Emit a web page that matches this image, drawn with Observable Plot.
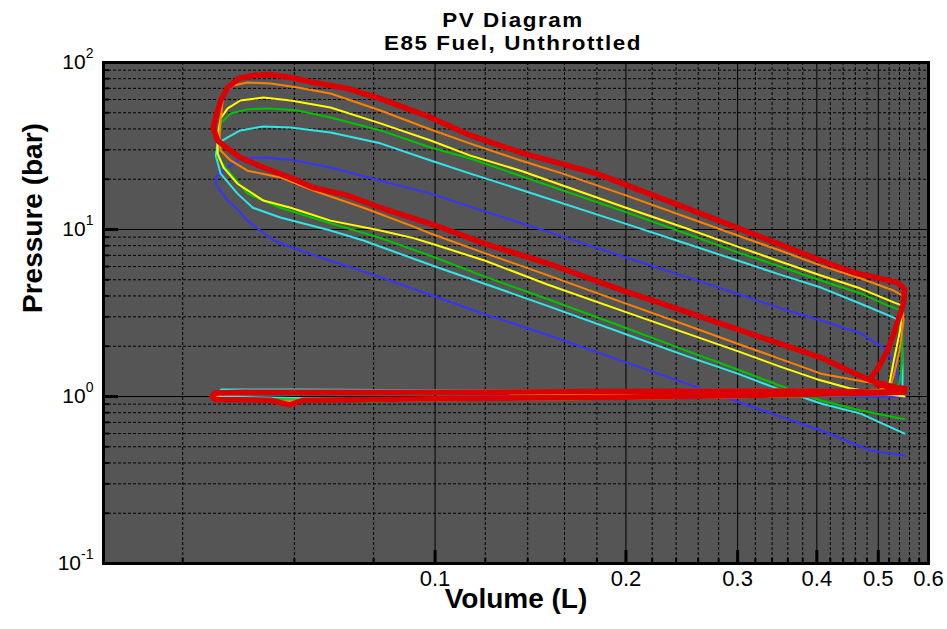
<!DOCTYPE html>
<html><head><meta charset="utf-8">
<script src="https://cdn.jsdelivr.net/npm/d3@7"></script>
<script src="https://cdn.jsdelivr.net/npm/@observablehq/plot@0.6"></script>
<style>
body{margin:0;background:#fff;font-family:Arial,"Liberation Sans",sans-serif;}
#title{box-sizing:border-box;width:947px;height:36px;overflow:visible;padding-top:9px;padding-left:79px;text-align:center;font-weight:bold;font-size:20px;letter-spacing:1.4px;color:#000;position:relative;z-index:1;}
#title div{height:23px;line-height:23px;white-space:nowrap;transform:scaleX(1.12);transform-origin:center;}
#chart svg{display:block;}
</style></head><body>
<div id="title"><div>PV Diagram</div><div>E85 Fuel, Unthrottled</div></div>
<div id="chart"></div>
<script>
// Axis ticks
const xMajor = [0.1,0.2,0.3,0.4,0.5,0.6];
const xTickLabels = ["0.1","0.2","0.3","0.4","0.5","0.6"];
const xMinor = [0.04,0.06,0.08,0.12,0.14,0.16,0.18,0.22,0.24,0.26,0.28,0.32,0.34,0.36,0.38,0.42,0.44,0.46,0.48,0.52,0.54,0.56,0.58];
const yMajor = [0.1,1,10,100];
const yTickExponents = ["-1","0","1","2"];
const yMinor = [0.2,0.3,0.4,0.5,0.6,0.7,0.8,0.9,2,3,4,5,6,7,8,9,20,30,40,50,60,70,80,90];

// Series: volume (L) and pressure (bar), in cycle order
const blueV = [0.55,0.486,0.406,0.35,0.3,0.25,0.2,0.15,0.12,0.1,0.08,0.07,0.06,0.0557,0.053,0.0506,0.049,0.0471,0.0454,0.0451,
 0.0451,0.0464,0.0493,0.0536,0.0592,0.0684,0.082,0.0984,0.12,0.15,0.2,0.25,0.3,0.35,0.406,0.469,0.507,0.529,0.546,
 0.5,0.3,0.1,0.05,0.045,
 0.045,0.1,0.3,0.5,0.55];
const blueP = [0.443,0.475,0.626,0.76,0.93,1.19,1.6,2.35,3.1,3.97,5.35,6.3,7.7,8.59,9.87,11.3,13.0,14.9,18.0,18.8,
 20.5,22.5,26.6,27.0,26.2,23.5,19.6,16.4,12.8,9.75,6.8,5.17,4.12,3.38,2.85,2.39,1.98,1.64,1.04,
 1.07,1.07,1.07,1.08,1.06,
 0.98,0.97,0.99,1.0,0.99];

const cyanV = [0.55,0.469,0.406,0.35,0.3,0.25,0.2,0.15,0.12,0.1,0.0771,0.0684,0.057,0.0516,0.0488,0.0459,0.0451,
 0.0454,0.0471,0.0493,0.0536,0.0592,0.0684,0.082,0.0984,0.1137,0.1365,0.2,0.25,0.3,0.35,0.406,0.469,0.529,0.541,
 0.545,0.546,0.546,0.5,
 0.4,0.3,0.2,0.1,0.06,0.046,
 0.045,0.06,0.1,0.2,0.3,0.4,0.5,0.55];
const cyanP = [0.60,0.79,0.908,1.1,1.37,1.74,2.36,3.5,4.72,6.0,8.59,9.87,11.8,13.5,16.4,21.6,27.7,
 32.8,35.6,39.2,41.4,40.8,38.1,32.8,25.9,21.6,17.3,10.8,8.18,6.52,5.37,4.49,3.59,2.97,2.8,
 2.48,1.43,1.01,1.08,
 1.10,1.10,1.09,1.09,1.10,1.10,
 1.0,0.98,0.98,0.99,1.0,1.02,1.04,1.05];

const greenV = [0.55,0.469,0.406,0.35,0.3,0.25,0.2,0.15,0.12,0.1,0.082,0.0684,0.057,0.0506,0.0476,0.0454,
 0.0459,0.0476,0.0506,0.055,0.0607,0.0684,0.082,0.0984,0.1137,0.1365,0.2,0.25,0.3,0.35,0.406,0.469,0.517,0.54,
 0.545,0.545,0.54,0.53,
 0.4,0.3,0.2,0.1,0.06,0.046,
 0.045,0.06,0.08,0.1,0.2,0.3,0.4,0.5,0.55];
const greenP = [0.73,0.824,0.946,1.16,1.45,1.87,2.57,3.85,5.2,6.8,8.9,10.9,13.5,16.4,21.6,27.0,
 43.2,49.5,52.4,53.1,51.6,46.9,39.2,31.0,26.6,20.9,12.7,9.4,7.3,6.0,4.95,4.14,3.51,3.3,
 2.5,1.6,1.2,1.08,
 1.07,1.07,1.06,1.07,1.08,1.08,
 0.98,0.96,0.93,0.96,0.98,0.99,1.0,1.02,1.03];

const yellowV = [0.55,0.5,0.45,0.4,0.35,0.3,0.25,0.2,0.15,0.12,0.1,0.0925,0.082,0.0684,0.0592,0.0536,0.0488,0.0464,0.0454,
 0.0454,0.0459,0.0471,0.0493,0.0536,0.0592,0.0684,0.082,0.0984,0.1137,0.1365,0.2,0.25,0.3,0.35,0.406,0.469,0.529,0.546,
 0.541,0.529,0.52,0.5,
 0.4,0.3,0.2,0.1,0.06,0.046,
 0.045,0.05,0.07,0.1,0.2,0.3,0.4,0.5,0.55];
const yellowP = [1.0,1.05,1.12,1.27,1.51,1.87,2.38,3.2,4.7,6.5,8.1,8.88,9.87,11.3,13.5,14.9,18.8,23.5,28.5,
 36.6,46.3,53.1,59.2,61.7,59.2,53.8,43.2,34.1,27.7,22.5,13.5,10.1,7.9,6.43,5.3,4.43,3.66,3.5,
 2.48,1.64,1.16,1.08,
 1.05,1.04,1.04,1.04,1.04,1.03,
 0.96,0.94,0.94,0.95,0.97,0.99,1.01,1.03,1.05];

const orangeV = [0.55,0.52,0.474,0.406,0.35,0.3,0.25,0.2,0.15,0.12,0.0984,0.0925,0.0771,0.0643,0.057,0.0506,0.0476,0.0459,
 0.0457,0.0459,0.0464,0.0481,0.0506,0.055,0.0607,0.0684,0.082,0.0984,0.1137,0.1365,0.159,0.2,0.25,0.3,0.35,0.406,0.469,0.529,0.545,
 0.548,0.54,0.529,0.523,0.51,
 0.4,0.3,0.2,0.1,0.06,0.046,
 0.045,0.05,0.07,0.1,0.2,0.3,0.4,0.5,0.55];
const orangeP = [1.12,1.17,1.23,1.37,1.68,2.07,2.66,3.6,5.35,7.2,9.47,10.4,13.5,17.1,20.5,22.5,25.9,29.7,
 34.1,46.3,65.2,72.8,75.9,74.8,70.8,65.2,51.6,39.7,32.7,25.9,21.6,16.0,11.8,9.2,7.48,6.08,5.09,4.31,4.03,
 2.85,1.88,1.34,1.16,1.1,
 1.07,1.06,1.05,1.05,1.05,1.04,
 0.97,0.94,0.95,0.96,0.98,1.0,1.02,1.05,1.08];

const redV = [0.55,0.52,0.486,0.45,0.406,0.35,0.3,0.25,0.2,0.15,0.12,0.1,0.082,0.0728,0.0643,0.0592,0.0536,0.0493,0.0471,0.0454,
 0.0447,0.0451,0.0459,0.0471,0.049,0.0517,0.055,0.0592,0.0643,0.0728,0.082,0.0984,0.1137,0.1365,0.18,0.262,0.406,0.457,0.536,0.55,
 0.548,0.529,0.517,0.5,0.486,0.5,0.53,0.55,0.55,
 0.5,0.4,0.3,0.2,0.1,0.07,0.05,0.045,
 0.0445,0.045,0.055,0.059,0.062,0.08,0.1,0.2,0.3,0.4,0.5,0.55];
const redP = [1.10,1.16,1.25,1.42,1.71,2.07,2.52,3.2,4.25,6.3,8.2,10.6,13.5,16.0,17.8,20.4,23.5,27.0,30.5,34.1,
 40.8,46.8,59.2,70.8,80.2,83.6,84.7,81.3,75.9,69.8,60.8,46.9,36.6,28.9,21.6,12.5,6.52,5.53,4.82,4.4,
 3.6,2.38,1.88,1.49,1.28,1.17,1.13,1.12,1.07,
 1.06,1.08,1.08,1.07,1.06,1.06,1.06,1.05,
 1.0,0.96,0.95,0.89,0.95,0.96,0.97,0.99,1.01,1.03,1.05,1.06];

const seriesNames = ["blue","cyan","green","yellow","orange","red"];
const seriesColors = ["#3535ff","#30e6e6","#00c400","#ffff00","#ff8000","#dd0000"];
const seriesWidths = [2,2,2,2,2,5.5];
const seriesV = [blueV,cyanV,greenV,yellowV,orangeV,redV];
const seriesP = [blueP,cyanP,greenP,yellowP,orangeP,redP];

const W = 947, H = 593, mT = 26, mB = 66, mL = 103, mR = 19;
const frameW = W - mL - mR, frameH = H - mT - mB;

const lineMarks = seriesNames.map((name, k) => {
  const rows = seriesV[k].map((v, i) => ({V: v, P: seriesP[k][i]}));
  return Plot.line(rows, {x: "V", y: "P", stroke: seriesColors[k], strokeWidth: seriesWidths[k], strokeLinejoin: "round", strokeLinecap: "round"});
});

const chart = Plot.plot({
  width: W, height: H,
  marginTop: mT, marginBottom: mB, marginLeft: mL, marginRight: mR,
  style: {fontFamily: "Arial, 'Liberation Sans', sans-serif", color: "black", background: "transparent", overflow: "visible"},
  x: {type: "log", domain: [0.03, 0.6], axis: null},
  y: {type: "log", domain: [0.1, 100], axis: null},
  marks: [
    Plot.frame({fill: "#555555", stroke: null}),
    Plot.ruleX(xMinor, {stroke: "black", strokeWidth: 1, strokeDasharray: "3,2"}),
    Plot.ruleY(yMinor, {stroke: "black", strokeWidth: 1, strokeDasharray: "3,2"}),
    Plot.ruleX(xMajor.slice(0, 5), {stroke: "black", strokeWidth: 1}),
    Plot.ruleY([1, 10], {stroke: "black", strokeWidth: 1}),
    ...lineMarks,
    Plot.ruleX(xMajor, {stroke: "black", strokeWidth: 3, insetTop: frameH - 13}),
    Plot.ruleX(xMinor, {stroke: "black", strokeWidth: 2, insetTop: frameH - 5}),
    Plot.ruleY(yMajor, {stroke: "black", strokeWidth: 3, insetRight: frameW - 15}),
    Plot.ruleY(yMinor, {stroke: "black", strokeWidth: 2, insetRight: frameW - 6}),
    Plot.frame({stroke: "black", strokeWidth: 3}),
    // x tick labels
    Plot.text(xMajor, {x: d => d, frameAnchor: "bottom", dy: 22, fontSize: 22, fill: "black",
      text: d => xTickLabels[xMajor.indexOf(d)]}),
    // y tick labels (exponent marked with ^, turned into a superscript below)
    Plot.text(yMajor, {y: d => d, frameAnchor: "left", dx: -10, textAnchor: "end", fontSize: 21, fill: "black",
      text: d => "10^" + yTickExponents[yMajor.indexOf(d)]}),
    Plot.text(["Volume (L)"], {frameAnchor: "bottom", dy: 44, fontSize: 28, fontWeight: "bold", fill: "black"}),
    Plot.text(["Pressure (bar)"], {frameAnchor: "left", dx: -70, rotate: -90, fontSize: 28, fontWeight: "bold", fill: "black"})
  ]
});

document.getElementById("chart").appendChild(chart);

// Superscript exponents on the y tick labels
chart.querySelectorAll("text").forEach(t => {
  const parts = t.textContent.split("^");
  if (parts.length === 2) {
    t.textContent = parts[0];
    const ts = document.createElementNS("http://www.w3.org/2000/svg", "tspan");
    ts.setAttribute("dy", "-11");
    ts.setAttribute("font-size", "14");
    ts.textContent = parts[1];
    t.appendChild(ts);
  }
});
</script>
</body></html>
